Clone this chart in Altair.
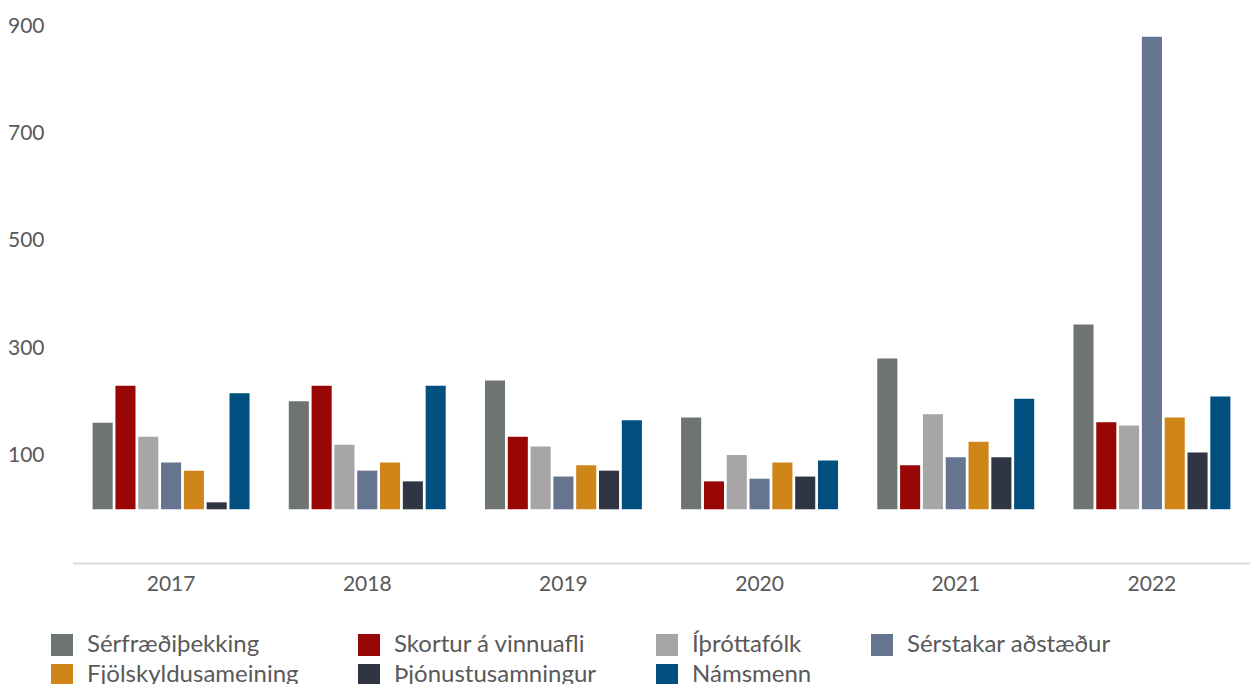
import altair as alt
import pandas as pd

years = ["2017", "2018", "2019", "2020", "2021", "2022"]
categories = [
    "Sérfræðiþekking",
    "Skortur á vinnuafli",
    "Íþróttafólk",
    "Sérstakar aðstæður",
    "Fjölskyldusameining",
    "Þjónustusamningur",
    "Námsmenn",
]
colors = ["#6E7470", "#990606", "#A6A6A6", "#66758F", "#CF8518", "#2F3543", "#004F7F"]

serfraedi = [161, 201, 240, 171, 281, 344]
skortur = [230, 230, 135, 52, 82, 162]
ithrotta = [135, 120, 117, 101, 177, 156]
serstakar = [87, 72, 61, 57, 97, 880]
fjolskyldu = [72, 87, 82, 87, 126, 171]
thjonustu = [13, 52, 72, 61, 97, 106]
namsmenn = [216, 230, 166, 91, 206, 210]

series = [serfraedi, skortur, ithrotta, serstakar, fjolskyldu, thjonustu, namsmenn]

rows = []
for cat, vals in zip(categories, series):
    for yr, v in zip(years, vals):
        rows.append({"Ár": yr, "Flokkur": cat, "Fjöldi": v})
df = pd.DataFrame(rows)

FONT = "Lato"
TXT = "#595959"

chart = (
    alt.Chart(df)
    .mark_bar()
    .encode(
        x=alt.X(
            "Ár:N",
            sort=years,
            scale=alt.Scale(paddingInner=0.2, paddingOuter=0.1),
            axis=alt.Axis(
                title=None,
                labelAngle=0,
                ticks=False,
                tickSize=0,
                labelPadding=10,
                domainColor="#D9D9D9",
                domainWidth=2,
                labelFont=FONT,
                labelFontSize=21,
                labelColor=TXT,
                grid=False,
            ),
        ),
        xOffset=alt.XOffset(
            "Flokkur:N",
            sort=categories,
            scale=alt.Scale(paddingInner=0.12, paddingOuter=0),
        ),
        y=alt.Y(
            "Fjöldi:Q",
            scale=alt.Scale(domain=[-100, 900], nice=False, zero=False),
            axis=alt.Axis(
                title=None,
                values=[100, 300, 500, 700, 900],
                grid=False,
                domain=False,
                ticks=False,
                tickSize=0,
                labelPadding=29,
                labelFont=FONT,
                labelFontSize=21,
                labelColor=TXT,
            ),
        ),
        y2=alt.datum(0),
        color=alt.Color(
            "Flokkur:N",
            sort=categories,
            scale=alt.Scale(domain=categories, range=colors),
            legend=alt.Legend(
                title=None,
                orient="none",
                legendX=-23,
                legendY=607,
                direction="horizontal",
                columns=4,
                columnPadding=58,
                rowPadding=6,
                symbolType="square",
                symbolSize=484,
                symbolStrokeWidth=0,
                labelFont=FONT,
                labelFontSize=24,
                labelColor=TXT,
                labelOffset=13,
                labelLimit=400,
                padding=0,
            ),
        ),
    )
    .properties(
        width=1177,
        height=537,
        background="white",
        padding={"left": 65, "top": 18, "right": 0, "bottom": 121},
        autosize=alt.AutoSizeParams(type="none"),
    )
    .configure_view(stroke="transparent", strokeWidth=0)
)

chart.save("out.html", embed_options={"renderer": "svg", "actions": False})
